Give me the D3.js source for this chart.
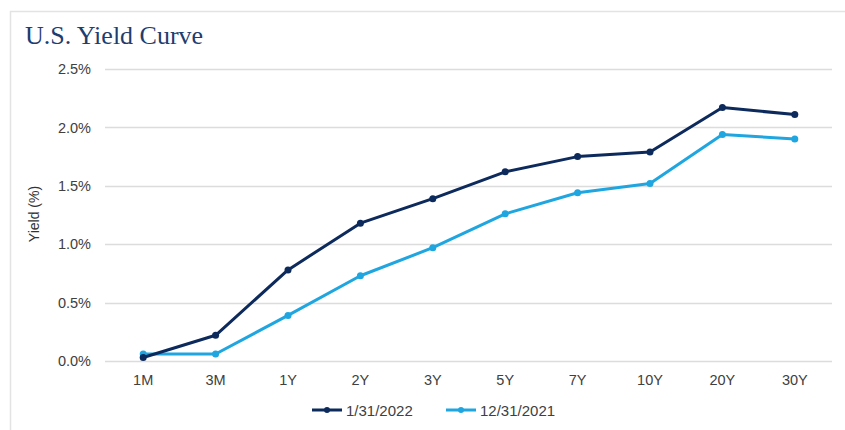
<!DOCTYPE html>
<html>
<head>
<meta charset="utf-8">
<script src="https://cdn.jsdelivr.net/npm/d3@7"></script>
<style>
  html, body { margin: 0; padding: 0; background: #fff; }
  svg { display: block; }
</style>
</head>
<body>
<div id="chart"></div>
<script>
// Treasury yield curve: tenors and yields (%) on two dates
const tenors = ["1M", "3M", "1Y", "2Y", "3Y", "5Y", "7Y", "10Y", "20Y", "30Y"];
const yieldsJan2022 = [0.03, 0.22, 0.78, 1.18, 1.39, 1.62, 1.75, 1.79, 2.17, 2.11];
const yieldsDec2021 = [0.06, 0.06, 0.39, 0.73, 0.97, 1.26, 1.44, 1.52, 1.94, 1.90];
const seriesNames = ["1/31/2022", "12/31/2021"];
const seriesColors = ["#0d2a5c", "#1fa6e0"];
const yTicks = [0, 0.5, 1.0, 1.5, 2.0, 2.5];

const W = 845, H = 430;
const margin = { top: 69, right: 14, bottom: 69, left: 107 };
const sansFont = "'Liberation Sans', Arial, sans-serif";

const svg = d3.select("#chart").append("svg")
  .attr("width", W).attr("height", H);

// outer frame
svg.append("path")
  .attr("d", `M10.5,${H} V11.5 H${W}`)
  .attr("fill", "none").attr("stroke", "#e3e3e3").attr("stroke-width", 1.5);

svg.append("text")
  .attr("x", 25).attr("y", 44)
  .attr("font-family", "'Liberation Serif', 'DejaVu Serif', serif")
  .attr("font-size", 26)
  .attr("fill", "#1f3d6e")
  .text("U.S. Yield Curve");

const x = d3.scaleBand()
  .domain(tenors)
  .range([margin.left, W - margin.right]);

const y = d3.scaleLinear()
  .domain([0, 2.5])
  .range([H - margin.bottom, margin.top]);

// gridlines
svg.append("g")
  .selectAll("line")
  .data(yTicks)
  .join("line")
  .attr("x1", margin.left - 2).attr("x2", W - margin.right + 1)
  .attr("y1", d => Math.round(y(d)) + 0.5).attr("y2", d => Math.round(y(d)) + 0.5)
  .attr("stroke", "#dcdcdc").attr("stroke-width", 1.5);

// y axis labels
const yAxis = d3.axisLeft(y).tickValues(yTicks)
  .tickFormat(d => d.toFixed(1) + "%").tickSize(0).tickPadding(14);
const gy = svg.append("g").attr("transform", `translate(${margin.left - 2},0)`).call(yAxis);
gy.select(".domain").remove();
gy.selectAll("text")
  .attr("font-family", sansFont)
  .attr("font-size", 14.5).attr("fill", "#404040");

// x axis labels
const xAxis = d3.axisBottom(x).tickSize(0).tickPadding(14);
const gx = svg.append("g").attr("transform", `translate(0,${H - margin.bottom})`).call(xAxis);
gx.select(".domain").remove();
gx.selectAll("text")
  .attr("font-family", sansFont)
  .attr("font-size", 14.5).attr("fill", "#404040");

// y axis title
svg.append("text")
  .attr("transform", `translate(38.5,214) rotate(-90)`)
  .attr("text-anchor", "middle")
  .attr("font-family", sansFont)
  .attr("font-size", 14).attr("fill", "#333")
  .text("Yield (%)");

const cx = t => x(t) + x.bandwidth() / 2;
const line = d3.line()
  .x(d => cx(d.t))
  .y(d => y(d.v));

const series = [yieldsDec2021, yieldsJan2022].map((vals, i) => ({
  name: seriesNames[1 - i],
  color: seriesColors[1 - i],
  points: tenors.map((t, j) => ({ t, v: vals[j] }))
}));

const gs = svg.append("g").selectAll("g").data(series).join("g");
gs.append("path")
  .attr("d", d => line(d.points))
  .attr("fill", "none")
  .attr("stroke", d => d.color)
  .attr("stroke-width", 3)
  .attr("stroke-linejoin", "round");
gs.each(function(d) {
  d3.select(this).selectAll("circle")
    .data(d.points)
    .join("circle")
    .attr("cx", p => cx(p.t))
    .attr("cy", p => y(p.v))
    .attr("r", 3.5)
    .attr("fill", d.color);
});

// legend
const legendItems = [
  { name: seriesNames[0], color: seriesColors[0], x: 312 },
  { name: seriesNames[1], color: seriesColors[1], x: 446 }
];
const lg = svg.append("g").selectAll("g").data(legendItems).join("g")
  .attr("transform", d => `translate(${d.x},410)`);
lg.append("line")
  .attr("x1", 0).attr("x2", 30).attr("y1", 0).attr("y2", 0)
  .attr("stroke", d => d.color).attr("stroke-width", 3);
lg.append("circle")
  .attr("cx", 15).attr("cy", 0).attr("r", 3)
  .attr("fill", d => d.color);
lg.append("text")
  .attr("x", 34).attr("y", 5.5)
  .attr("font-family", sansFont)
  .attr("font-size", 15).attr("fill", "#404040")
  .text(d => d.name);
</script>
</body>
</html>
